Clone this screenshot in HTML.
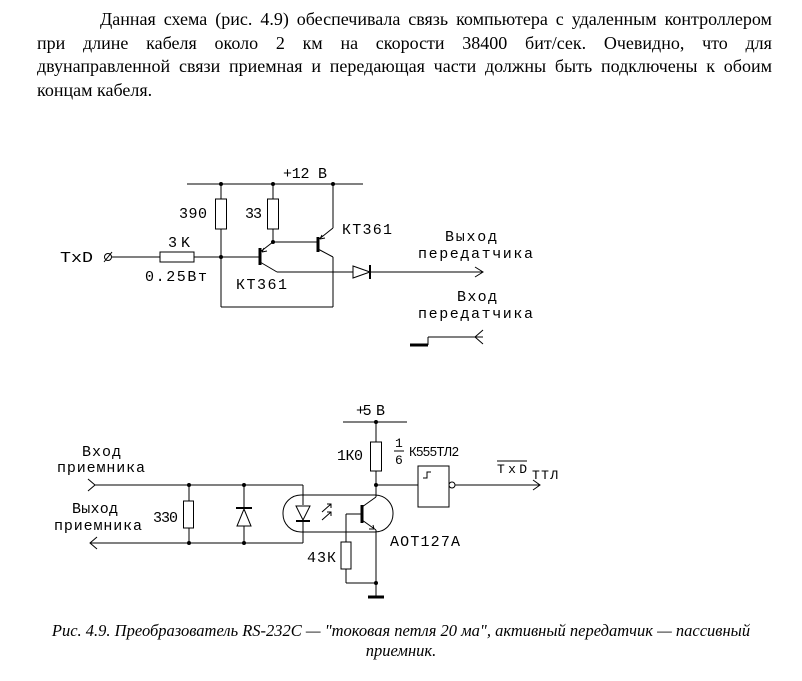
<!DOCTYPE html>
<html><head><meta charset="utf-8">
<style>
body{margin:0;background:#fff;width:802px;height:681px;position:relative;overflow:hidden;font-family:"Liberation Serif","Noto Serif CJK SC",serif;}
#p{position:absolute;left:37px;top:8px;width:735px;font-size:18px;line-height:23.5px;color:#000;}
#p div{text-align:justify;text-align-last:justify;white-space:nowrap;}
#p div.l{text-align-last:left}
#c{position:absolute;left:0;top:621px;width:802px;text-align:center;font-style:italic;font-size:16.5px;line-height:20px;}
svg{position:absolute;left:0;top:0}
svg text{font-family:"Liberation Mono",monospace;font-size:15px;fill:#000}
</style></head><body>
<div id="p">
<div style="padding-left:63px;display:flex;justify-content:space-between"><span>Данная</span><span>схема</span><span>(рис.</span><span>4.9)</span><span>обеспечивала</span><span>связь</span><span>компьютера</span><span>с</span><span>удаленным</span><span>контроллером</span></div>
<div style="display:flex;justify-content:space-between"><span>при</span><span>длине</span><span>кабеля</span><span>около</span><span>2</span><span>км</span><span>на</span><span>скорости</span><span>38400</span><span>бит/сек.</span><span>Очевидно,</span><span>что</span><span>для</span></div>
<div style="display:flex;justify-content:space-between"><span>двунаправленной</span><span>связи</span><span>приемная</span><span>и</span><span>передающая</span><span>части</span><span>должны</span><span>быть</span><span>подключены</span><span>к</span><span>обоим</span></div>
<div class="l">концам кабеля.</div>
</div>
<svg width="802" height="681" viewBox="0 0 802 681" stroke="#000" fill="none" stroke-width="1">
<line x1="187" y1="184" x2="363" y2="184"/>
<circle cx="221" cy="184" r="1.5" fill="#000"/><circle cx="273" cy="184" r="1.5" fill="#000"/><circle cx="333" cy="184" r="1.5" fill="#000"/>
<line x1="221" y1="184" x2="221" y2="199"/><rect x="215.5" y="199" width="11" height="30"/>
<line x1="221" y1="229" x2="221" y2="307"/>
<line x1="273" y1="184" x2="273" y2="199"/><rect x="267.5" y="199" width="11" height="30"/>
<line x1="273" y1="229" x2="273" y2="242"/>
<circle cx="273" cy="242" r="1.5" fill="#000"/>
<line x1="221" y1="307" x2="333" y2="307"/>
<line x1="333" y1="307" x2="333" y2="257"/>
<line x1="112" y1="257" x2="160" y2="257"/>
<circle cx="108" cy="257" r="3.5"/><line x1="104" y1="262" x2="112" y2="252"/>
<rect x="160" y="252" width="34" height="10"/>
<line x1="194" y1="257" x2="260" y2="257"/>
<circle cx="221" cy="257" r="1.5" fill="#000"/>
<line x1="260" y1="248" x2="260" y2="265" stroke-width="3"/>
<line x1="260" y1="252" x2="273" y2="242"/>
<path d="M262 252 l5 -1 M262 252 l2 -4"/>
<line x1="260" y1="262" x2="277" y2="272"/>
<line x1="277" y1="272" x2="353" y2="272"/>
<path d="M353 266 L370 272 L353 278 Z"/><line x1="370" y1="265" x2="370" y2="279" stroke-width="2"/>
<line x1="370" y1="272" x2="483" y2="272"/>
<path d="M475 267 L483 272 L475 277"/>
<line x1="273" y1="242" x2="318" y2="242"/>
<line x1="318" y1="237" x2="318" y2="252" stroke-width="3"/>
<line x1="318" y1="240" x2="333" y2="228"/><line x1="333" y1="228" x2="333" y2="184"/>
<path d="M320 239 l5 -1 M320 239 l2 -4"/>
<line x1="318" y1="249" x2="333" y2="257"/>
<line x1="410" y1="345" x2="428" y2="345" stroke-width="3"/>
<line x1="428" y1="345" x2="428" y2="337"/><line x1="428" y1="337" x2="483" y2="337"/>
<path d="M483 330 L475 337 L483 344"/>
<g stroke="none">
<text x="60" y="262" textLength="33" lengthAdjust="spacingAndGlyphs">TxD</text>
<text x="168" y="247" textLength="22">3K</text>
<text x="145" y="281" textLength="62">0.25Вт</text>
<text x="179" y="218" textLength="28">390</text>
<text x="245" y="218" textLength="17">33</text>
<text x="283" y="178" textLength="44">+12 В</text>
<text x="342" y="234" textLength="50">КТ361</text>
<text x="236" y="289" textLength="51">КТ361</text>
<text x="445" y="241" textLength="52">Выход</text>
<text x="418" y="258" textLength="115">передатчика</text>
<text x="457" y="301" textLength="40">Вход</text>
<text x="418" y="318" textLength="115">передатчика</text>
</g>
<line x1="343" y1="422" x2="407" y2="422"/><circle cx="376" cy="422" r="1.5" fill="#000"/>
<line x1="376" y1="422" x2="376" y2="442"/><rect x="370.5" y="442" width="11" height="29"/>
<line x1="376" y1="471" x2="376" y2="497"/><circle cx="376" cy="485" r="1.5" fill="#000"/>
<line x1="376" y1="485" x2="418" y2="485"/>
<rect x="418" y="466" width="31" height="41"/>
<path d="M423 478 h4 v-6 h4 M427 478 v-6"/>
<circle cx="452" cy="485" r="3"/>
<line x1="455" y1="485" x2="540" y2="485"/><path d="M533 480 L540 485 L533 490"/>
<line x1="376" y1="497" x2="362" y2="507"/>
<line x1="362" y1="505" x2="362" y2="523" stroke-width="3"/>
<line x1="362" y1="520" x2="376" y2="530"/><path d="M374 529 l-5 0 M374 529 l-1 -4"/>
<line x1="376" y1="530" x2="376" y2="597"/><circle cx="376" cy="583" r="1.5" fill="#000"/>
<line x1="368" y1="597" x2="384" y2="597" stroke-width="3"/>
<line x1="362" y1="514" x2="346" y2="514"/><line x1="346" y1="514" x2="346" y2="542"/>
<rect x="341" y="542" width="10" height="27"/>
<line x1="346" y1="569" x2="346" y2="583"/><line x1="346" y1="583" x2="376" y2="583"/>
<rect x="283" y="495" width="110" height="37" rx="18"/>
<line x1="95" y1="485" x2="303" y2="485"/><line x1="303" y1="485" x2="303" y2="505"/>
<path d="M88 479 L95 485 L88 491"/>
<path d="M296 506 L310 506 L303 520 Z"/><line x1="296" y1="521" x2="310" y2="521" stroke-width="2"/>
<line x1="303" y1="521" x2="303" y2="543"/>
<line x1="90" y1="543" x2="303" y2="543"/><path d="M97 537 L90 543 L97 549"/>
<path d="M322 512 l9 -8 M327 504 h4 v4 M322 520 l9 -8 M327 512 h4 v4"/>
<circle cx="189" cy="485" r="1.5" fill="#000"/><circle cx="189" cy="543" r="1.5" fill="#000"/>
<line x1="189" y1="485" x2="189" y2="501"/><rect x="183.5" y="501" width="10" height="27"/><line x1="189" y1="528" x2="189" y2="543"/>
<circle cx="244" cy="485" r="1.5" fill="#000"/><circle cx="244" cy="543" r="1.5" fill="#000"/>
<line x1="244" y1="485" x2="244" y2="543"/>
<path d="M237 526 L251 526 L244 509 Z" fill="#fff"/><line x1="236" y1="508" x2="252" y2="508" stroke-width="2"/>
<line x1="394" y1="451" x2="404" y2="451"/>
<line x1="497" y1="461" x2="527" y2="461"/>
<g stroke="none">
<text x="356" y="415" textLength="29">+5 В</text>
<text x="337" y="460" textLength="26">1К0</text>
<text x="395" y="447" style="font-size:13px">1</text>
<text x="395" y="464" style="font-size:13px">6</text>
<text x="409" y="456" textLength="50" style="font-family:'Liberation Sans',sans-serif;font-size:13px">К555ТЛ2</text>
<text x="497" y="473" textLength="30" style="font-size:13px">TxD</text>
<text x="532" y="479" textLength="26" style="font-size:13px">ТТЛ</text>
<text x="82" y="456" textLength="39">Вход</text>
<text x="57" y="472" textLength="88">приемника</text>
<text x="72" y="513" textLength="46">Выход</text>
<text x="54" y="530" textLength="88">приемника</text>
<text x="153" y="522" textLength="25">330</text>
<text x="307" y="562" textLength="29">43К</text>
<text x="390" y="546" textLength="70">АОТ127А</text>
</g>
</svg>
<div id="c">Рис. 4.9. Преобразователь RS-232C — "токовая петля 20 ма", активный передатчик — пассивный<br>приемник.</div>
</body></html>
